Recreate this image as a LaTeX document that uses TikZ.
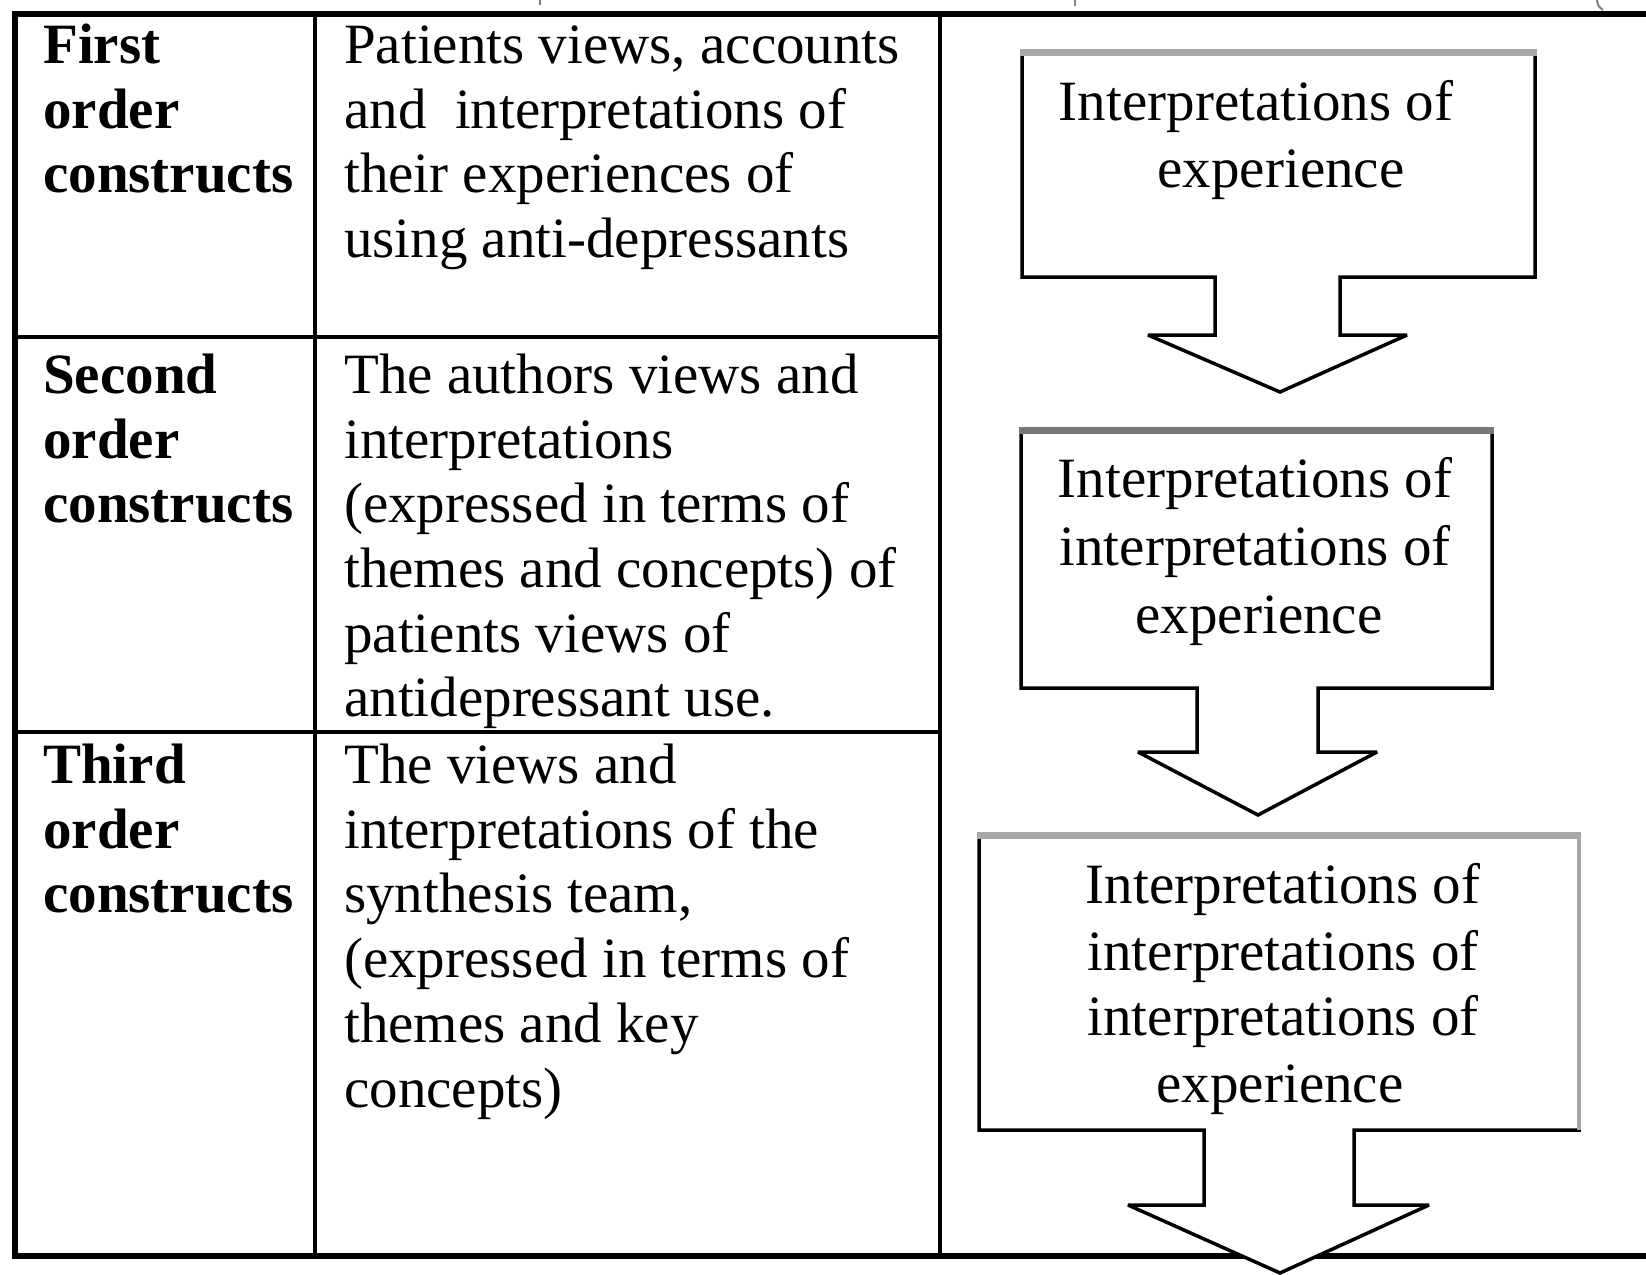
\documentclass[tikz,border=0pt]{standalone}
\usepackage{fontspec}
\setmainfont{Liberation Serif}
\definecolor{edgelight}{HTML}{A8A8A8}
\definecolor{edgedark}{HTML}{787878}
\begin{document}
\begin{tikzpicture}[x=1pt,y=-1pt,
  txt/.style={inner sep=0pt, anchor=base west, font=\fontsize{57}{64}\selectfont},
  hdr/.style={inner sep=0pt, anchor=base west, font=\fontsize{57}{64}\selectfont\bfseries},
  ctr/.style={inner sep=0pt, anchor=base, font=\fontsize{57}{64}\selectfont},
  outerrule/.style={line width=6pt, line cap=rect},
  innerrule/.style={line width=4.5pt},
  callout/.style={draw=black, fill=white, line width=3.5pt, line join=miter, miter limit=3},
  topedge/.style={line width=7pt},
  ]
\useasboundingbox (0,0) rectangle (1646,1274);

% fragments of the line above the table
\draw[gray, line width=2pt] (540,0) -- (540,5);
\draw[gray, line width=2pt] (1075,0) -- (1075,6);
\draw[gray, line width=2pt] (1597,0) .. controls (1598,6) .. (1603,10);

% table rules
\draw[innerrule] (315,14) -- (315,1256);
\draw[innerrule] (940,14) -- (940,1256);
\draw[innerrule] (15,337) -- (940,337);
\draw[innerrule] (15,732) -- (940,732);
\draw[outerrule] (1650,14) -- (15,14) -- (15,1256) -- (1650,1256);

% first column
\node[hdr] (h1a) at (43,63) {First};
\node[hdr] (h1b) at (43,128) {order};
\node[hdr] (h1c) at (43,192) {constructs};
\node[hdr] (h2a) at (43,393) {Second};
\node[hdr] (h2b) at (43,458) {order};
\node[hdr] (h2c) at (43,522) {constructs};
\node[hdr] (h3a) at (43,783) {Third};
\node[hdr] (h3b) at (43,848) {order};
\node[hdr] (h3c) at (43,912) {constructs};

% second column
\node[txt] (d1a) at (344,63) {Patients views, accounts};
\node[txt] (d1b) at (344,128) {and~~interpretations of};
\node[txt] (d1c) at (344,192) {their experiences of};
\node[txt] (d1d) at (344,257) {using anti-depressants};

\node[txt] (d2a) at (344,393) {The authors views and};
\node[txt] (d2b) at (344,458) {interpretations};
\node[txt] (d2c) at (344,522) {(expressed in terms of};
\node[txt] (d2d) at (344,587) {themes and concepts) of};
\node[txt] (d2e) at (344,652) {patients views of};
\node[txt] (d2f) at (344,716) {antidepressant use.};

\node[txt] (d3a) at (344,783) {The views and};
\node[txt] (d3b) at (344,848) {interpretations of the};
\node[txt] (d3c) at (344,912) {synthesis team,};
\node[txt] (d3d) at (344,977) {(expressed in terms of};
\node[txt] (d3e) at (344,1042) {themes and key};
\node[txt] (d3f) at (344,1107) {concepts)};

% down-arrow callouts
\draw[callout] (1022,52) -- (1535,52) -- (1535,277) -- (1340,277) -- (1340,335)
  -- (1407,335) -- (1280,392) -- (1148,335) -- (1215,335) -- (1215,277)
  -- (1022,277) -- cycle;
\draw[topedge, edgelight] (1020,52) -- (1537,52);

\draw[callout] (1021,430) -- (1492,430) -- (1492,688) -- (1318,688) -- (1318,752)
  -- (1377,752) -- (1258,815) -- (1138,752) -- (1197,752) -- (1197,688)
  -- (1021,688) -- cycle;
\draw[topedge, edgedark] (1019,430) -- (1494,430);

\draw[callout] (979,835) -- (1579,835) -- (1579,1130) -- (1354,1130) -- (1354,1205)
  -- (1429,1205) -- (1280,1273) -- (1128,1205) -- (1204,1205) -- (1204,1130)
  -- (979,1130) -- cycle;
\draw[topedge, edgelight] (977,835) -- (1581,835);
\draw[line width=4.5pt, edgelight] (1579,835) -- (1579,1130);

% callout texts
\node[ctr] (e1a) at (1256,120) {Interpretations of};
\node[ctr] (e1b) at (1281,187) {experience};

\node[ctr] (e2a) at (1255,497) {Interpretations of};
\node[ctr] (e2b) at (1255,565) {interpretations of};
\node[ctr] (e2c) at (1259,633) {experience};

\node[ctr] (e3a) at (1283,903) {Interpretations of};
\node[ctr] (e3b) at (1283,970) {interpretations of};
\node[ctr] (e3c) at (1283,1035) {interpretations of};
\node[ctr] (e3d) at (1280,1102) {experience};
\end{tikzpicture}
\end{document}
